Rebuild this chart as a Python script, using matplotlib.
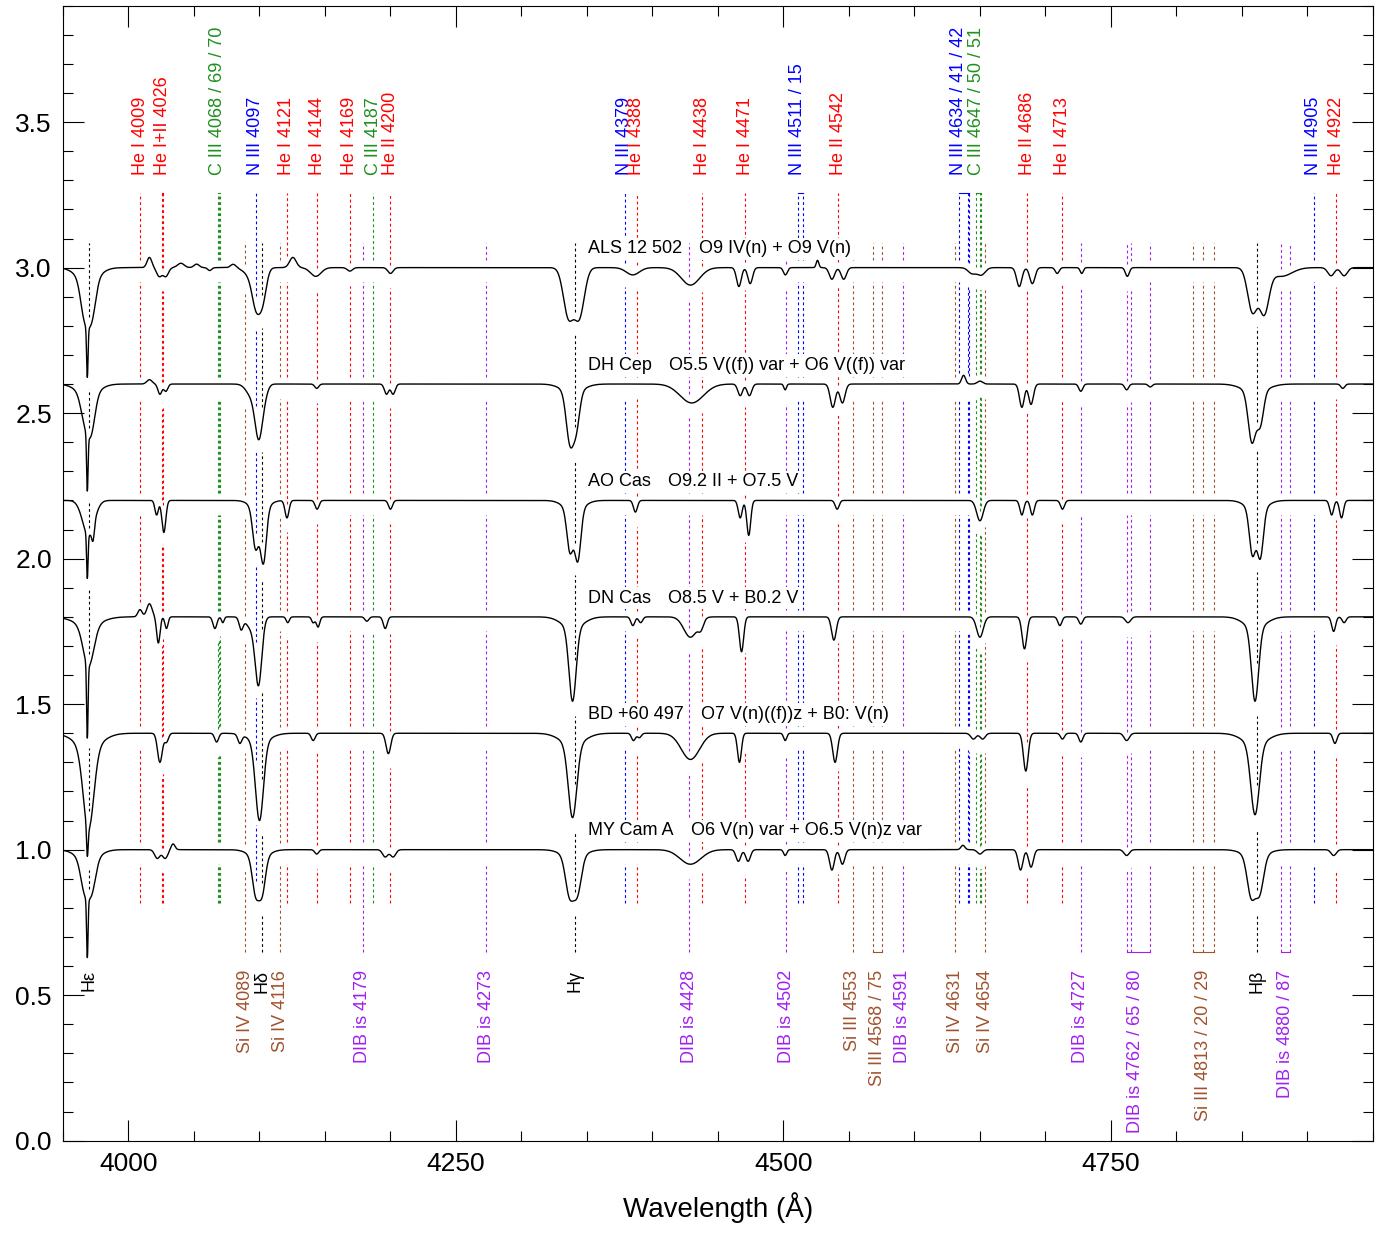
import numpy as np
import matplotlib.pyplot as plt
from matplotlib.ticker import MultipleLocator, FormatStrFormatter

plt.rcParams['font.family'] = ['Liberation Sans', 'DejaVu Sans']

ROJO = '#ff0000'
AZUL = '#0000ff'
VERDE = '#1f8f1f'
MARRON = '#a0522d'
MORADO = '#a020f0'
NEGRO = 'black'

# malla de longitudes de onda (A)
lam = np.arange(3950.0, 4950.01, 0.2)

nombres = ["ALS 12 502", "DH Cep", "AO Cas", "DN Cas", "BD +60 497", "MY Cam A"]
tipos = ["O9 IV(n) + O9 V(n)", "O5.5 V((f)) var + O6 V((f)) var", "O9.2 II + O7.5 V",
         "O8.5 V + B0.2 V", "O7 V(n)((f))z + B0: V(n)", "O6 V(n) var + O6.5 V(n)z var"]
desplazamientos = [2.0, 1.6, 1.2, 0.8, 0.4, 0.0]

# lineas de cada espectro: (centro [A], profundidad, sigma [A]); profundidad < 0 es emision
lineas_als = [(3966.5, 0.12, 3.0), (3972.0, 0.12, 3.0), (3969.0, 0.05, 8.0), (3968.6, 0.17, 0.55),
              (4016.0, -0.035, 1.8), (4023.5, 0.03, 2.0), (4028.5, 0.03, 2.0), (4040.0, -0.015, 2.5),
              (4052.0, -0.012, 2.0), (4062.0, 0.01, 1.5), (4080.0, -0.012, 2.0),
              (4097.5, 0.11, 3.0), (4102.5, 0.10, 2.8), (4094.0, 0.03, 5.0), (4125.5, -0.035, 2.5),
              (4143.0, 0.03, 4.0), (4169.0, 0.012, 2.0), (4200.0, 0.02, 2.0),
              (4335.8, 0.165, 3.8), (4344.2, 0.165, 3.8), (4385.0, 0.025, 5.0), (4429.0, 0.06, 7.0),
              (4466.0, 0.065, 1.8), (4474.6, 0.055, 1.8), (4501.5, 0.025, 1.5), (4526.0, -0.025, 1.0),
              (4537.0, 0.04, 2.0), (4546.0, 0.04, 2.0), (4644.0, 0.02, 3.0), (4651.0, 0.025, 3.0),
              (4680.0, 0.065, 2.0), (4690.0, 0.055, 2.0), (4709.0, 0.02, 1.5), (4727.7, 0.02, 1.2),
              (4762.5, 0.03, 1.5), (4858.0, 0.15, 3.6), (4867.0, 0.15, 3.6), (4880.0, 0.03, 8.0),
              (4918.0, 0.028, 2.5), (4928.0, 0.028, 2.5)]
lineas_dhcep = [(3966.5, 0.08, 3.0), (3971.5, 0.12, 3.0), (3969.0, 0.04, 8.0), (3968.6, 0.19, 0.55),
                (4016.0, -0.015, 2.0), (4024.0, 0.035, 1.5), (4028.5, 0.025, 1.5),
                (4099.5, 0.17, 2.8), (4094.0, 0.04, 4.0), (4104.0, 0.03, 2.5), (4143.7, 0.015, 1.5),
                (4197.0, 0.035, 1.6), (4202.0, 0.035, 1.6),
                (4337.0, 0.17, 2.8), (4342.0, 0.11, 2.5), (4339.0, 0.03, 8.0), (4430.0, 0.065, 9.0),
                (4467.0, 0.04, 1.8), (4474.0, 0.04, 1.8), (4501.3, 0.02, 1.0),
                (4537.7, 0.08, 2.0), (4545.0, 0.065, 2.0), (4637.5, -0.03, 1.5), (4650.0, -0.01, 2.0),
                (4682.0, 0.08, 1.8), (4689.0, 0.07, 1.8), (4727.0, 0.025, 1.5), (4762.0, 0.02, 1.5),
                (4780.0, 0.01, 1.5), (4857.6, 0.17, 2.8), (4864.0, 0.11, 2.5), (4860.0, 0.03, 9.0),
                (4927.0, 0.015, 1.5)]
lineas_aocas = [(3969.5, 0.12, 4.5), (3968.6, 0.15, 0.55), (3973.0, 0.05, 1.0),
                (4021.5, 0.05, 1.3), (4027.0, 0.11, 1.5), (4097.0, 0.13, 2.2), (4103.0, 0.18, 2.2),
                (4100.0, 0.04, 6.0), (4121.0, 0.06, 1.5), (4144.0, 0.03, 1.5), (4200.0, 0.03, 1.5),
                (4337.0, 0.14, 2.3), (4343.0, 0.17, 2.3), (4340.0, 0.04, 7.0), (4387.0, 0.04, 1.5),
                (4467.0, 0.06, 1.5), (4473.5, 0.12, 1.5), (4541.0, 0.03, 1.5), (4650.0, 0.07, 2.5),
                (4682.0, 0.05, 1.5), (4690.0, 0.05, 1.5), (4713.0, 0.03, 1.5),
                (4858.0, 0.15, 2.3), (4864.0, 0.16, 2.3), (4861.0, 0.04, 7.0),
                (4918.5, 0.05, 1.5), (4926.0, 0.06, 1.5)]
lineas_dncas = [(3969.5, 0.14, 4.0), (3969.0, 0.03, 10.0), (3968.6, 0.25, 0.55),
                (4008.8, -0.025, 1.6), (4016.0, -0.045, 2.0), (4022.8, 0.09, 1.3), (4029.0, 0.04, 1.2),
                (4066.0, 0.04, 1.5), (4072.0, 0.02, 1.0), (4086.0, 0.04, 1.5),
                (4099.3, 0.22, 2.5), (4094.0, 0.04, 4.0), (4121.6, 0.02, 1.2),
                (4141.0, 0.02, 1.2), (4144.7, 0.035, 1.3), (4182.0, 0.015, 1.5), (4196.0, 0.04, 1.5),
                (4339.0, 0.25, 2.7), (4339.0, 0.04, 8.0), (4385.0, 0.03, 1.5), (4391.0, 0.02, 1.5),
                (4429.0, 0.07, 5.0), (4437.0, 0.03, 2.0), (4468.0, 0.12, 1.6), (4538.5, 0.08, 1.8),
                (4650.0, 0.07, 2.5), (4684.0, 0.11, 1.8), (4711.0, 0.03, 1.5), (4727.0, 0.025, 1.5),
                (4763.0, 0.02, 2.0), (4860.0, 0.25, 2.7), (4860.0, 0.04, 8.0),
                (4920.0, 0.05, 1.5), (4928.0, 0.02, 1.5)]
lineas_bd60 = [(3969.5, 0.28, 4.0), (3969.5, 0.05, 10.0), (3968.6, 0.10, 0.6),
               (4024.0, 0.10, 1.8), (4029.0, 0.03, 1.5), (4067.3, 0.03, 1.5), (4085.0, 0.03, 1.5),
               (4100.0, 0.27, 3.0), (4100.0, 0.03, 8.0), (4141.0, 0.025, 1.5), (4198.4, 0.07, 1.8),
               (4339.0, 0.25, 3.2), (4339.0, 0.04, 9.0), (4385.5, 0.025, 1.5), (4390.0, 0.015, 1.5),
               (4429.0, 0.09, 7.0), (4466.4, 0.10, 1.5), (4501.3, 0.025, 1.2), (4539.4, 0.10, 1.8),
               (4645.0, 0.02, 2.0), (4652.0, 0.02, 2.0), (4685.0, 0.13, 1.8), (4713.0, 0.02, 1.5),
               (4727.0, 0.03, 1.5), (4762.0, 0.025, 2.0), (4860.0, 0.24, 3.2), (4860.0, 0.04, 9.0),
               (4921.0, 0.035, 1.5)]
lineas_mycam = [(3966.5, 0.10, 3.0), (3972.0, 0.10, 3.0), (3969.0, 0.04, 8.0), (3968.6, 0.20, 0.55),
                (4022.0, 0.03, 2.0), (4028.0, 0.03, 2.0), (4034.0, -0.02, 1.5),
                (4097.0, 0.12, 2.5), (4102.0, 0.12, 2.5), (4099.5, 0.03, 7.0), (4143.7, 0.015, 1.5),
                (4196.0, 0.025, 2.0), (4202.0, 0.025, 2.0),
                (4336.6, 0.125, 3.0), (4342.7, 0.12, 3.0), (4339.5, 0.03, 8.0), (4429.0, 0.05, 8.0),
                (4465.6, 0.04, 1.8), (4473.0, 0.04, 1.8), (4501.3, 0.02, 1.2),
                (4537.0, 0.07, 1.8), (4545.0, 0.05, 1.8), (4637.0, -0.015, 1.5), (4650.0, 0.015, 2.0),
                (4681.0, 0.07, 1.8), (4689.0, 0.06, 1.8), (4762.0, 0.02, 2.0),
                (4857.0, 0.13, 3.0), (4863.5, 0.12, 3.0), (4860.0, 0.03, 8.0), (4920.0, 0.02, 2.0)]
lineas_estrellas = [lineas_als, lineas_dhcep, lineas_aocas, lineas_dncas, lineas_bd60, lineas_mycam]

# identificaciones arriba (texto, color, longitudes de onda)
etiq_arriba = [("He I 4009", ROJO, [4009]), ("He I+II 4026", ROJO, [4025.6, 4026.2]),
               ("C III 4068 / 69 / 70", VERDE, [4068, 4069, 4070]), ("N III 4097", AZUL, [4097]),
               ("He I 4121", ROJO, [4121]), ("He I 4144", ROJO, [4144]), ("He I 4169", ROJO, [4169]),
               ("C III 4187", VERDE, [4187]), ("He II 4200", ROJO, [4200]),
               ("N III 4379", AZUL, [4379]), ("He I 4388", ROJO, [4388]), ("He I 4438", ROJO, [4438]),
               ("He I 4471", ROJO, [4471]), ("N III 4511 / 15", AZUL, [4511, 4515]),
               ("He II 4542", ROJO, [4542]), ("N III 4634 / 41 / 42", AZUL, [4634, 4641, 4642]),
               ("C III 4647 / 50 / 51", VERDE, [4647, 4650, 4651]), ("He II 4686", ROJO, [4686]),
               ("He I 4713", ROJO, [4713]), ("N III 4905", AZUL, [4905]), ("He I 4922", ROJO, [4922])]
# identificaciones abajo
etiq_abajo = [("Hε", NEGRO, [3970.1]), ("Si IV 4089", MARRON, [4089]), ("Hδ", NEGRO, [4101.7]),
              ("Si IV 4116", MARRON, [4116]), ("DIB is 4179", MORADO, [4179]),
              ("DIB is 4273", MORADO, [4273]), ("Hγ", NEGRO, [4340.5]), ("DIB is 4428", MORADO, [4428]),
              ("DIB is 4502", MORADO, [4502]), ("Si III 4553", MARRON, [4553]),
              ("Si III 4568 / 75", MARRON, [4568, 4575]), ("DIB is 4591", MORADO, [4591]),
              ("Si IV 4631", MARRON, [4631]), ("Si IV 4654", MARRON, [4654]),
              ("DIB is 4727", MORADO, [4727]), ("DIB is 4762 / 65 / 80", MORADO, [4762, 4765, 4780]),
              ("Si III 4813 / 20 / 29", MARRON, [4813, 4820, 4829]), ("Hβ", NEGRO, [4861.3]),
              ("DIB is 4880 / 87", MORADO, [4880, 4887])]


def espectro(lineas, desp):
    """construye el espectro normalizado a partir de las lineas leidas y lo desplaza"""
    flujo = np.ones_like(lam)
    for centro, prof, sigma in lineas:
        flujo -= prof * np.exp(-0.5 * ((lam - centro) / sigma) ** 2)
    return flujo + desp


def tramos(x, y_min, y_max, flujos):
    """partes visibles de una linea vertical, cortada alrededor de cada espectro"""
    cerca = np.abs(lam - x) <= 1.5
    huecos = sorted((f[cerca].min() - 0.05, f[cerca].max() + 0.025) for f in flujos)
    visibles = []
    y = y_min
    for bajo, alto in huecos:
        if bajo > y:
            visibles.append((y, min(bajo, y_max)))
        y = max(y, alto)
    if y < y_max:
        visibles.append((y, y_max))
    return [t for t in visibles if t[1] > t[0]]


flujos = [espectro(l, d) for l, d in zip(lineas_estrellas, desplazamientos)]

fig = plt.figure(figsize=(13.84, 12.38), dpi=100)
ax = fig.add_axes([0.0455, 0.0786, 0.9465, 0.9168])

punteado = (0, (2.5, 2.5))
Y_ARRIBA, Y_FIN_ARRIBA = 3.256, 0.816
Y_ABAJO, Y_FIN_ABAJO = 0.648, 3.085

for texto, color, ondas in etiq_arriba:
    for w in ondas:
        for y0, y1 in tramos(w, Y_FIN_ARRIBA, Y_ARRIBA, flujos):
            ax.plot([w, w], [y0, y1], color=color, lw=0.8, ls=punteado, zorder=1)
    if len(ondas) > 1:
        ax.plot([min(ondas), max(ondas)], [Y_ARRIBA, Y_ARRIBA], color=color, lw=0.8, zorder=1)
    ax.text(ondas[0], 3.318, texto, color=color, fontsize=13, rotation=90,
            ha='center', va='bottom')

for texto, color, ondas in etiq_abajo:
    for w in ondas:
        for y0, y1 in tramos(w, Y_ABAJO, Y_FIN_ABAJO, flujos):
            ax.plot([w, w], [y0, y1], color=color, lw=0.8, ls=punteado, zorder=1)
    if len(ondas) > 1:
        ax.plot([min(ondas), max(ondas)], [Y_ABAJO, Y_ABAJO], color=color, lw=0.8, zorder=1)
    ax.text(np.mean(ondas), 0.587, texto, color=color, fontsize=13, rotation=90,
            ha='center', va='top')

for flujo in flujos:
    ax.plot(lam, flujo, color='black', lw=1.0, zorder=3)

caja = dict(facecolor='white', edgecolor='none', pad=2)
for nombre, tipo, desp in zip(nombres, tipos, desplazamientos):
    t = ax.text(4351, desp + 1.035, nombre, fontsize=13, va='bottom', bbox=caja, zorder=2)
    ax.annotate(tipo, xy=(1, 0), xycoords=t, xytext=(17, 0), textcoords='offset pixels',
                fontsize=13, va='bottom', bbox=caja, zorder=2)

ax.set_xlim(3950, 4950)
ax.set_ylim(0, 3.9)
ax.xaxis.set_major_locator(MultipleLocator(250))
ax.xaxis.set_minor_locator(MultipleLocator(50))
ax.yaxis.set_major_locator(MultipleLocator(0.5))
ax.yaxis.set_minor_locator(MultipleLocator(0.1))
ax.yaxis.set_major_formatter(FormatStrFormatter('%.1f'))
ax.tick_params(which='both', direction='in', top=True, right=True, width=0.8, labelsize=19)
ax.tick_params(which='major', length=15, pad=8)
ax.tick_params(which='minor', length=7.5)
for lado in ax.spines.values():
    lado.set_linewidth(0.8)
ax.set_xlabel("Wavelength (Å)", fontsize=20, labelpad=12)

fig.savefig("out.png", dpi=100)
